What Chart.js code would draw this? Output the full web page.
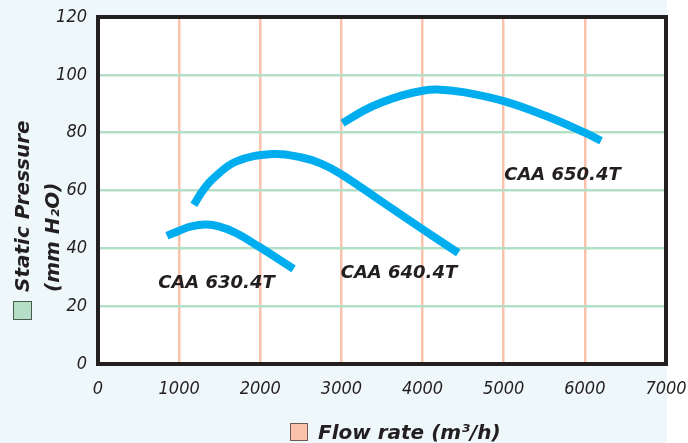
<!DOCTYPE html>
<html>
<head>
<meta charset="utf-8">
<script src="https://cdn.jsdelivr.net/npm/chart.js@4/dist/chart.umd.min.js"></script>
<style>
  html, body { margin: 0; padding: 0; background: #ffffff; }
  #wrap { width: 688px; height: 443px; }
</style>
</head>
<body>
<div id="wrap"><canvas id="c" width="688" height="443"></canvas></div>
<script>
// ---- data ----
const flow630 = [850, 1000, 1150, 1330, 1500, 1700, 2000, 2200, 2410];
const pres630 = [44.3, 46.1, 47.6, 48.2, 47.5, 45.3, 40.3, 36.7, 32.9];

const flow640 = [1180, 1300, 1425, 1700, 2150, 2500, 2750, 3000, 3500, 4000, 4440];
const pres640 = [55.0, 60.3, 64.3, 70.0, 72.6, 71.5, 69.3, 65.6, 56.1, 46.6, 38.4];

const flow650 = [3013, 3280, 3500, 3750, 4000, 4180, 4500, 5000, 5500, 6000, 6200];
const pres650 = [83.3, 87.7, 90.5, 92.9, 94.5, 94.9, 94.0, 90.9, 86.0, 80.0, 77.2];

const seriesNames = ['CAA 630.4T', 'CAA 640.4T', 'CAA 650.4T'];
const labelFlow = [742, 2991, 5006];
const labelPres = [26.3, 29.7, 63.6];

const xTicks = [0, 1000, 2000, 3000, 4000, 5000, 6000, 7000];
const yTicks = [0, 20, 40, 60, 80, 100, 120];

const xTitle = 'Flow rate (m\u00B3/h)';
const yTitle1 = 'Static Pressure';
const yTitle2 = '(mm H\u2082O)';

// ---- styling ----
const INK = '#231f20';
const CURVE = '#00aeef';
const GREEN = '#b4dfc6';
const PEACH = '#fbc2ab';
const BG = '#eef7f9';
const TICK_FONT = "'DejaVu Sans Condensed', 'Liberation Sans', sans-serif";
const BOLD_FONT = "'DejaVu Sans', 'Liberation Sans', sans-serif";

function pts(xs, ys) { return xs.map((x, i) => ({ x: x, y: ys[i] })); }

const bgPlugin = {
  id: 'bg',
  beforeDraw(chart) {
    const { ctx, chartArea: a } = chart;
    ctx.save();
    ctx.fillStyle = '#ffffff';
    ctx.fillRect(0, 0, chart.width, chart.height);
    ctx.fillStyle = BG;
    ctx.fillRect(0, 0, a.right + 1, chart.height);
    ctx.fillStyle = '#ffffff';
    ctx.fillRect(a.left, a.top, a.right - a.left, a.bottom - a.top);
    ctx.restore();
  },
  beforeDatasetsDraw(chart) {
    const { ctx, chartArea: a } = chart;
    ctx.save();
    ctx.strokeStyle = INK;
    ctx.lineWidth = 4;
    ctx.strokeRect(a.left, a.top, a.right - a.left, a.bottom - a.top);
    ctx.restore();
  },
  afterDraw(chart) {
    const { ctx } = chart;
    const xs = chart.scales.x, ys = chart.scales.y;
    ctx.save();
    // series labels
    ctx.fillStyle = INK;
    ctx.font = 'italic bold 18px ' + BOLD_FONT;
    ctx.textBaseline = 'alphabetic';
    ctx.textAlign = 'left';
    seriesNames.forEach((n, i) => {
      ctx.fillText(n, xs.getPixelForValue(labelFlow[i]), ys.getPixelForValue(labelPres[i]));
    });
    // x title + peach square
    ctx.font = 'italic bold 20px ' + BOLD_FONT;
    ctx.fillText(xTitle, 318, 439);
    ctx.fillStyle = PEACH;
    ctx.fillRect(290, 423, 18, 18);
    ctx.strokeStyle = '#6b5a55';
    ctx.lineWidth = 1;
    ctx.strokeRect(290.5, 423.5, 17, 17);
    // y titles
    ctx.fillStyle = INK;
    ctx.save();
    ctx.translate(29, 292);
    ctx.rotate(-Math.PI / 2);
    ctx.fillText(yTitle1, 0, 0);
    ctx.restore();
    ctx.save();
    ctx.translate(59, 292);
    ctx.rotate(-Math.PI / 2);
    ctx.fillText(yTitle2, 0, 0);
    ctx.restore();
    // green square
    ctx.fillStyle = GREEN;
    ctx.fillRect(13, 301, 19, 19);
    ctx.strokeStyle = '#4a5a50';
    ctx.strokeRect(13.5, 301.5, 18, 18);
    ctx.restore();
  }
};

const ds = (xs, ys) => ({
  data: pts(xs, ys),
  showLine: true,
  borderColor: CURVE,
  backgroundColor: CURVE,
  borderWidth: 8,
  pointRadius: 0,
  tension: 0.4,
  borderCapStyle: 'butt',
  borderJoinStyle: 'round',
  fill: false
});

new Chart(document.getElementById('c'), {
  type: 'scatter',
  data: {
    datasets: [ds(flow630, pres630), ds(flow640, pres640), ds(flow650, pres650)]
  },
  options: {
    responsive: false,
    animation: false,
    devicePixelRatio: 1,
    layout: { padding: { left: 0, top: 17, right: 22, bottom: 0 } },
    plugins: { legend: { display: false }, tooltip: { enabled: false } },
    scales: {
      x: {
        type: 'linear',
        min: 0, max: 7000,
        afterBuildTicks(s) { s.ticks = xTicks.map(v => ({ value: v })); },
        afterFit(s) { s.height = 79; s.paddingLeft = 0; s.paddingRight = 0; },
        border: { display: false },
        grid: {
          drawTicks: false,
          lineWidth: 2.5,
          color: c => (c.tick && (c.tick.value === 0 || c.tick.value === 7000)) ? 'rgba(0,0,0,0)' : PEACH
        },
        ticks: {
          padding: 15,
          color: INK,
          maxRotation: 0,
          autoSkip: false,
          font: { family: TICK_FONT, size: 18, style: 'italic' },
          callback: v => String(v)
        }
      },
      y: {
        type: 'linear',
        min: 0, max: 120,
        afterBuildTicks(s) { s.ticks = yTicks.map(v => ({ value: v })); },
        afterFit(s) { s.width = 98; s.paddingTop = 0; s.paddingBottom = 0; },
        border: { display: false },
        grid: {
          drawTicks: false,
          lineWidth: 2.5,
          color: c => (c.tick && (c.tick.value === 0 || c.tick.value === 120)) ? 'rgba(0,0,0,0)' : GREEN
        },
        ticks: {
          padding: 11,
          color: INK,
          font: { family: TICK_FONT, size: 18, style: 'italic' },
          callback: v => String(v)
        }
      }
    }
  },
  plugins: [bgPlugin]
});
</script>
</body>
</html>
